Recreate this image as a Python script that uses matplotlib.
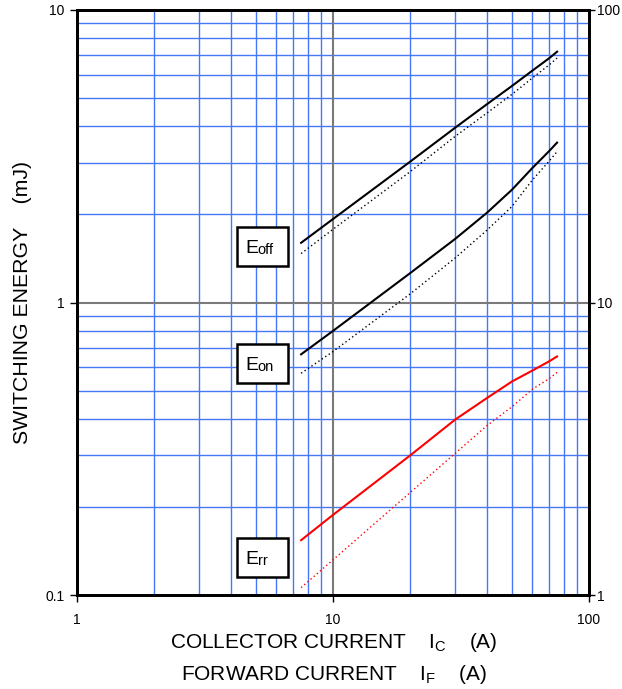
import matplotlib.pyplot as plt
from matplotlib.patches import Rectangle
from matplotlib.ticker import FixedLocator, NullLocator

plt.rcParams['font.family'] = ['Liberation Sans', 'DejaVu Sans']

# Current (A)
current = [7.5, 10, 20, 30, 40, 50, 60, 70, 75]

# Switching energy (mJ), solid and dotted curves
eoff_solid = [1.6, 1.93, 3.03, 3.96, 4.77, 5.5, 6.2, 6.85, 7.2]
eoff_dot = [1.47, 1.78, 2.8, 3.7, 4.45, 5.15, 5.85, 6.5, 6.85]
eon_solid = [0.665, 0.80, 1.26, 1.65, 2.03, 2.43, 2.88, 3.3, 3.52]
eon_dot = [0.573, 0.68, 1.07, 1.42, 1.77, 2.13, 2.62, 3.05, 3.28]
err_solid = [0.154, 0.188, 0.30, 0.398, 0.472, 0.537, 0.585, 0.63, 0.654]
err_dot = [0.106, 0.132, 0.224, 0.305, 0.38, 0.44, 0.505, 0.55, 0.577]

labels = ['off', 'on', 'rr']

fig = plt.figure(figsize=(6.22, 6.89), dpi=100)
ax = fig.add_axes([0.124, 0.1364, 0.823, 0.8491])
ax.set_xscale('log')
ax.set_yscale('log')
ax.set_xlim(1, 100)
ax.set_ylim(0.1, 10)

# grid: blue minor lines, grey decade lines
blue = '#4677f6'
for d in [1, 10]:
    for m in range(2, 10):
        ax.axvline(d * m, color=blue, lw=1.0, zorder=1)
for d in [0.1, 1]:
    for m in range(2, 10):
        ax.axhline(d * m, color=blue, lw=1.0, zorder=1)
ax.axvline(10, color='#7a7a7a', lw=1.5, zorder=1)
ax.axhline(1, color='#7a7a7a', lw=1.5, zorder=1)

ax.plot(current, eoff_solid, color='black', lw=1.5, zorder=3)
ax.plot(current, eoff_dot, color='black', lw=1.0, ls=(0, (1, 2)), zorder=3)
ax.plot(current, eon_solid, color='black', lw=1.5, zorder=3)
ax.plot(current, eon_dot, color='black', lw=1.0, ls=(0, (1, 2)), zorder=3)
ax.plot(current, err_solid, color='#ff0000', lw=1.5, zorder=3)
ax.plot(current, err_dot, color='#ff0000', lw=1.0, ls=(0, (1, 2)), zorder=3)

# curve labels in equal-sized boxes (axes fraction)
for lab, yb in zip(labels, [0.5624, 0.3624, 0.0308]):
    ax.add_patch(Rectangle((0.3125, yb), 0.0996, 0.0667, transform=ax.transAxes,
                           fc='white', ec='black', lw=1.8, zorder=4))
    ax.text(0.329, yb + 0.0217, 'E', fontsize=14, ha='left', va='baseline',
            transform=ax.transAxes, zorder=5)
    ax.text(0.3525, yb + 0.0197, lab, fontsize=10.5, ha='left', va='baseline',
            transform=ax.transAxes, zorder=5)

for s in ax.spines.values():
    s.set_linewidth(2)
    s.set_zorder(6)

ax.xaxis.set_major_locator(FixedLocator([1, 10, 100]))
ax.yaxis.set_major_locator(FixedLocator([0.1, 1, 10]))
ax.xaxis.set_minor_locator(NullLocator())
ax.yaxis.set_minor_locator(NullLocator())
ax.set_xticklabels(['1', '10', '100'])
ax.set_yticklabels(['0.1', '1', '10'])
ax.tick_params(axis='both', direction='out', length=5, width=1, labelsize=10, pad=4)
ax.tick_params(axis='x', pad=8)

ax2 = ax.twinx()
ax2.set_yscale('log')
ax2.set_ylim(1, 100)
ax2.yaxis.set_major_locator(FixedLocator([1, 10, 100]))
ax2.yaxis.set_minor_locator(NullLocator())
ax2.set_yticklabels(['1', '10', '100'])
ax2.tick_params(axis='y', direction='out', length=4, width=1, labelsize=10, pad=2)
for s in ax2.spines.values():
    s.set_linewidth(2)

ax.set_ylabel('SWITCHING ENERGY    (mJ)', fontsize=15.3, labelpad=10)
plt.rcParams['mathtext.fontset'] = 'custom'
plt.rcParams['mathtext.rm'] = 'Liberation Sans'
fig.text(0.537, 0.067, 'COLLECTOR CURRENT    I$_\\mathregular{C}$    (A)',
         fontsize=15, ha='center', va='center')
fig.text(0.537, 0.021, 'FORWARD CURRENT    I$_\\mathregular{F}$    (A)',
         fontsize=15, ha='center', va='center')

fig.savefig('out.png', dpi=100)
